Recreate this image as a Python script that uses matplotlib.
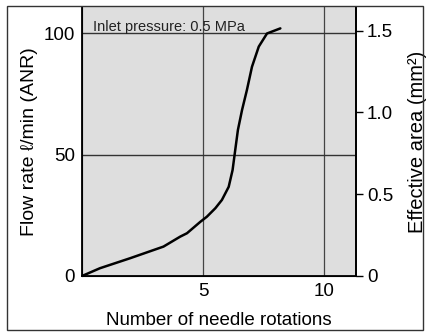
import matplotlib
matplotlib.use('Agg')
import matplotlib.pyplot as plt
from matplotlib.patches import Rectangle

plt.rcParams['font.family'] = ['Liberation Sans', 'DejaVu Sans']

# curve: needle rotations vs flow rate
rot = [0, 0.74, 1.98, 3.36, 4.05, 4.33, 4.88, 5.15, 5.5, 5.77, 6.05, 6.21,
       6.32, 6.43, 6.6, 6.8, 7.01, 7.29, 7.63, 8.18]
flow = [0, 3.2, 7.3, 12.1, 16.2, 17.6, 22.3, 24.4, 27.9, 31.3, 36.7, 43.6,
        51.9, 60.1, 68.3, 76.5, 86.1, 94.4, 99.8, 101.9]

xticks = [5, 10]
yticks = [0, 50, 100]
rticks = [0, 0.5, 1.0, 1.5]
rlabels = ['0', '0.5', '1.0', '1.5']

W, H = 427, 336
fig = plt.figure(figsize=(W / 100, H / 100), dpi=100)

# outer frame
fig.patches.append(Rectangle((7 / W, 1 - 330 / H), 416 / W, 324 / H,
                             transform=fig.transFigure, fill=False,
                             edgecolor='#333333', lw=1.0))

ax = fig.add_axes([82 / W, 1 - 276 / H, 274 / W, 269 / H])
ax.set_facecolor('#dedede')
ax.set_xlim(0, 11.3)
ax.set_ylim(0, 110.7)

for v in [5, 10]:
    ax.axvline(v, color='#444444', lw=0.9, zorder=1)
for v in [50, 100]:
    ax.axhline(v, color='#333333', lw=1.0, zorder=1)

ax.plot(rot, flow, color='black', lw=1.8, zorder=3,
        solid_joinstyle='round', solid_capstyle='round')

ax.set_xticks(xticks)
ax.set_yticks(yticks)
ax.tick_params(axis='both', length=0, labelsize=13.5, pad=5)
ax.spines['top'].set_visible(False)
for s in ['left', 'bottom', 'right']:
    ax.spines[s].set_linewidth(1.3)

ax.text(0.45, 101.0, 'Inlet pressure: 0.5 MPa', fontsize=10.5, color='#222222')

ax.set_ylabel('Flow rate \u2113/min (ANR)', fontsize=14, labelpad=4)
ax.set_xlabel('Number of needle rotations', fontsize=13.5, labelpad=9)

ax2 = ax.twinx()
ax2.set_ylim(0, 110.7 * 0.01485)
ax2.set_yticks(rticks)
ax2.set_yticklabels(rlabels)
ax2.tick_params(axis='y', length=5, width=1.0, labelsize=13.5, pad=3)
ax2.spines['top'].set_visible(False)
ax2.spines['right'].set_linewidth(1.3)
ax2.set_ylabel('Effective area (mm\u00b2)', fontsize=14.5)
ax2.yaxis.set_label_coords((408 - 82) / 274, 0.5)

fig.savefig('out.png', dpi=100)
